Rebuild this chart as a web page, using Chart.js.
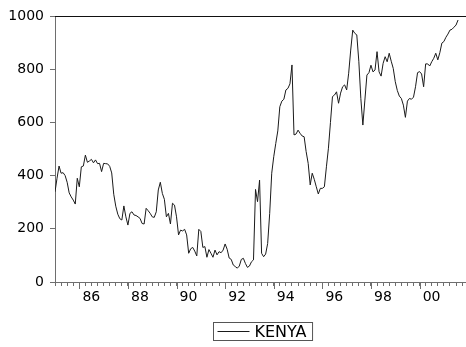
<!DOCTYPE html>
<html>
<head>
<meta charset="utf-8">
<script src="https://cdn.jsdelivr.net/npm/chart.js@4.4.1/dist/chart.umd.min.js"></script>
<style>
  html, body { margin: 0; padding: 0; background: #fff; overflow: hidden; }
  #wrap { width: 466px; height: 347px; }
</style>
</head>
<body>
<div id="wrap"><canvas id="chart" width="466" height="347"></canvas></div>
<script>
// Monthly series, first observation January 1985
const startYear = 1985;
const seriesName = 'KENYA';
const kenya = [
  339, 390, 436, 409, 411, 400, 375, 335, 320, 308, 293, 390,   // 1985
  358, 433, 436, 477, 450, 455, 461, 448, 459, 445, 446, 415,   // 1986
  446, 445, 444, 435, 410, 330, 285, 255, 238, 233, 286, 245,   // 1987
  214, 258, 264, 252, 250, 245, 239, 220, 218, 277, 268, 258,   // 1988
  245, 243, 264, 346, 375, 333, 311, 245, 258, 218, 296, 289,   // 1989
  245, 177, 195, 192, 198, 177, 108, 125, 130, 116,  98, 198,   // 1990
  190, 130, 133,  93, 122, 108,  93, 120, 102, 114, 110, 120,   // 1991
  143, 123,  90,  85,  64,  58,  52,  60,  85,  89,  70,  55,   // 1992
   60,  76,  83, 348, 302, 383, 108,  95, 105, 145, 258, 409,   // 1993
  471, 521, 568, 659, 680, 687, 722, 728, 745, 816, 553, 556,   // 1994
  571, 559, 549, 546, 490, 446, 365, 409, 386, 358, 331, 352,   // 1995
  352, 358, 433, 503, 600, 697, 703, 715, 672, 710, 734, 741,   // 1996
  722, 785, 872, 947, 935, 929, 830, 690, 590, 684, 778, 787,   // 1997
  815, 790, 797, 866, 790, 774, 822, 847, 828, 860, 830, 803,   // 1998
  753, 720, 699, 690, 665, 619, 680, 690, 687, 695, 734, 787,   // 1999
  791, 782, 734, 820, 820, 812, 828, 841, 860, 835, 862, 898,   // 2000
  904, 920, 932, 947, 950, 958, 966, 985                        // 2001
];

const yTicks = [0, 200, 400, 600, 800, 1000];
const labelYears = [1986, 1988, 1990, 1992, 1994, 1996, 1998, 2000];
const yearLabels = ['86', '88', '90', '92', '94', '96', '98', '00'];
const xMin = 1985;
const xMax = 2001.91;

const points = kenya.map((v, i) => ({ x: startYear + i / 12, y: v }));

// quarterly tick positions along the time axis
const quarterTicks = [];
for (let q = 0; xMin + q * 0.25 <= xMax; q++) quarterTicks.push(xMin + q * 0.25);

const axisFont = { family: 'DejaVu Sans', size: 14 };
const axisGrey = '#6e6e6e';

// longer tick marks at the labelled years
const majorTicks = {
  id: 'majorTicks',
  afterDraw(chart) {
    const { ctx, chartArea, scales } = chart;
    const xs = scales.x;
    ctx.save();
    ctx.strokeStyle = axisGrey;
    ctx.lineWidth = 1;
    ctx.beginPath();
    labelYears.forEach(yr => {
      const px = Math.round(xs.getPixelForValue(yr)) + 0.5;
      ctx.moveTo(px, chartArea.bottom);
      ctx.lineTo(px, chartArea.bottom + 7);
    });
    ctx.stroke();
    ctx.restore();
  }
};

// top edge of the frame and the boxed legend under the axis
const frameAndLegend = {
  id: 'frameAndLegend',
  afterDraw(chart) {
    const { ctx, chartArea } = chart;
    ctx.save();
    ctx.strokeStyle = '#111';
    ctx.lineWidth = 1;
    ctx.beginPath();
    ctx.moveTo(chartArea.left, chartArea.top + 0.5);
    ctx.lineTo(chartArea.right, chartArea.top + 0.5);
    ctx.stroke();

    const ds = chart.data.datasets[0];
    ctx.font = '16px "DejaVu Sans"';
    const tw = ctx.measureText(ds.label).width;
    const sample = 32, gap = 5, pad = 4;
    const w = pad + sample + gap + tw + pad + 2;
    const h = 18;
    const cx = (chartArea.left + chartArea.right) / 2 + 2;
    const x0 = Math.round(cx - w / 2) + 0.5;
    const y0 = chartArea.bottom + 40.5;
    ctx.strokeStyle = '#555';
    ctx.strokeRect(x0, y0, w, h);
    ctx.strokeStyle = ds.borderColor;
    ctx.beginPath();
    ctx.moveTo(x0 + pad, y0 + h / 2);
    ctx.lineTo(x0 + pad + sample, y0 + h / 2);
    ctx.stroke();
    ctx.fillStyle = '#000';
    ctx.textBaseline = 'middle';
    ctx.textAlign = 'left';
    ctx.fillText(ds.label, x0 + pad + sample + gap, y0 + h / 2 + 1);
    ctx.restore();
  }
};

new Chart(document.getElementById('chart'), {
  type: 'line',
  data: {
    datasets: [{
      label: seriesName,
      data: points,
      borderColor: '#1a1a1a',
      borderWidth: 1,
      pointRadius: 0,
      tension: 0,
      fill: false
    }]
  },
  options: {
    responsive: false,
    animation: false,
    devicePixelRatio: 1,
    layout: { padding: { top: 16, right: 0, left: 0, bottom: 0 } },
    plugins: { legend: { display: false }, tooltip: { enabled: false } },
    scales: {
      x: {
        type: 'linear',
        min: xMin,
        max: xMax,
        afterBuildTicks: s => { s.ticks = quarterTicks.map(v => ({ value: v })); },
        afterFit: s => { s.height = 65; },
        ticks: {
          autoSkip: false,
          maxRotation: 0,
          minRotation: 0,
          labelOffset: 12,
          padding: 3,
          color: '#000',
          font: axisFont,
          callback: v => {
            const k = labelYears.indexOf(v);
            return k >= 0 ? yearLabels[k] : '';
          }
        },
        grid: { display: true, drawOnChartArea: false, drawTicks: true, tickLength: 4, tickColor: axisGrey, lineWidth: 1 },
        border: { display: true, color: axisGrey, width: 1 }
      },
      y: {
        min: 0,
        max: 1000,
        afterBuildTicks: s => { s.ticks = yTicks.map(v => ({ value: v })); },
        afterFit: s => { s.width = 55; },
        ticks: { color: '#000', font: axisFont, padding: 6, callback: v => String(v) },
        grid: { display: true, drawOnChartArea: false, tickLength: 5, tickColor: axisGrey },
        border: { display: true, color: axisGrey, width: 1 }
      }
    }
  },
  plugins: [majorTicks, frameAndLegend]
});
</script>
</body>
</html>
